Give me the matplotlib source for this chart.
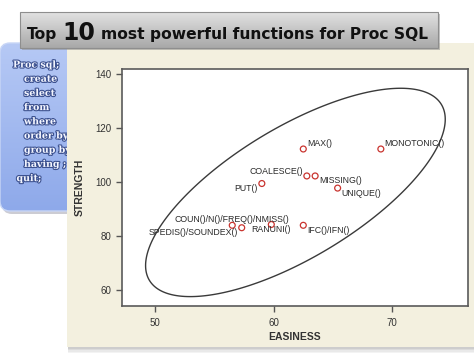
import matplotlib as mpl
mpl.use('Agg')
import matplotlib.pyplot as plt
import matplotlib.patheffects as pe
from matplotlib import font_manager
from matplotlib.patches import FancyBboxPatch, Rectangle, Polygon
from matplotlib.colors import LinearSegmentedColormap
import numpy as np

# functions: easiness (x) vs strength (y)
func_names = ["MAX()", "MONOTONIC()", "COALESCE()", "MISSING()", "UNIQUE()", "PUT()",
              "COUN()/N()/FREQ()/NMISS()", "SPEDIS()/SOUNDEX()", "RANUNI()", "IFC()/IFN()"]
easiness = [62.5, 69.05, 62.8, 63.5, 65.4, 59.0, 56.5, 57.3, 59.8, 62.5]
strength = [112.3, 112.3, 102.3, 102.3, 97.8, 99.5, 84.0, 83.1, 84.3, 84.0]
# where the label sits around its point
label_pos = ["ne", "ne", "nw", "se", "se", "sw", "n", "sw", "s", "se"]

x_ticks = [50, 60, 70]
y_ticks = [60, 80, 100, 120, 140]

sql_lines = ["Proc sql;", "create", "select", "from", "where",
             "order by", "group by", "having ;", "quit;"]

title_parts = ["Top", "10", "most powerful functions for Proc SQL"]

# offsets in pixels, horizontal alignment
offsets = {"ne": (3.5, 5, "left"), "nw": (-4, 4, "right"),
           "se": (4, -5, "left"), "sw": (-4, -5, "right"),
           "n": (0, 6, "center"), "s": (0, -5.5, "center")}


def pred_ellipse(x, y, f95=4.459):
    # 95% prediction ellipse like sgplot ellipse statement, f95 = F(.95; 2, n-2) for n=10
    pts = np.column_stack([x, y])
    n = len(pts)
    mean = pts.mean(axis=0)
    cov = np.cov(pts, rowvar=False)
    r = np.sqrt(2.0 * (n - 1) * (n + 1) / (n * (n - 2)) * f95)
    L = np.linalg.cholesky(cov)
    t = np.linspace(0, 2 * np.pi, 400, endpoint=False)
    e = mean[:, None] + r * (L @ np.vstack([np.cos(t), np.sin(t)]))
    return e.T


def gradient_fill(ax, patch, x0, x1, y0, y1, c_top, c_bot, z):
    cmap = LinearSegmentedColormap.from_list('g', [c_top, c_bot])
    grad = np.linspace(0, 1, 128)[:, None]
    im = ax.imshow(grad, extent=(x0, x1, y1, y0), cmap=cmap, aspect='auto',
                   origin='upper', zorder=z)
    im.set_clip_path(patch)


fig = plt.figure(figsize=(4.74, 3.55), dpi=100)
fig.patch.set_facecolor('white')

# background layer in pixel units
bg = fig.add_axes([0, 0, 1, 1], zorder=0)
bg.axis('off')

# blue side box
shadow = FancyBboxPatch((2, 46), 90, 168, boxstyle='round,pad=0,rounding_size=10',
                        fc='#9a9aa8', ec='none', alpha=0.5, zorder=1)
bg.add_patch(shadow)
blue = FancyBboxPatch((0, 43), 90, 168, boxstyle='round,pad=0,rounding_size=10',
                      fc='none', ec='#c8d6f6', lw=1, zorder=2)
bg.add_patch(blue)
gradient_fill(bg, blue, 0, 90, 43, 211, '#b6c9f5', '#8ea9ea', 1.5)

blue_x = [13, 24, 24, 24, 24, 24, 24, 24, 16.5]
for i, line in enumerate(sql_lines):
    bg.text(blue_x[i], 65 + i * 14.2, line, fontsize=6.8, family='DejaVu Serif',
            weight='bold', color='#f4f6ff', va='center', ha='left', zorder=4,
            path_effects=[pe.withStroke(linewidth=1.6, foreground='#3d5290')])

# beige panel with shadow
for k, a in enumerate([0.35, 0.25, 0.15, 0.08]):
    bg.add_patch(Rectangle((68, 347 + k * 1.5), 420, 1.6, fc='#707070', ec='none',
                           alpha=a, zorder=4.5))
bg.add_patch(Rectangle((67, 43), 420, 304, fc='#f3f0df', ec='none', zorder=5))

# title box
bg.add_patch(Rectangle((22, 14), 418, 36, fc='#8a8a8a', ec='none', alpha=0.5, zorder=5.5))
tbox = Rectangle((20, 12), 418, 36, fc='none', ec='#8e8e8e', lw=0.8, zorder=6.5)
bg.add_patch(tbox)
gradient_fill(bg, tbox, 20, 438, 12, 48, '#e2e2e2', '#a8a8a8', 6)

bg.set_xlim(0, 474)
bg.set_ylim(355, 0)

installed = {f.name for f in font_manager.fontManager.ttflist}
if 'Liberation Sans Narrow' in installed:
    big_fam, big_size = 'Liberation Sans Narrow', 22
else:
    big_fam, big_size = 'DejaVu Sans', 17

renderer = fig.canvas.get_renderer()
tx = 27
sizes = [11.2, big_size, 11.2]
fams = ['DejaVu Sans', big_fam, 'DejaVu Sans']
gaps = [5, 6, 0]
for part, s, f, g in zip(title_parts, sizes, fams, gaps):
    t = bg.text(tx, 39.5, part, fontsize=s, family=f, weight='bold',
                color='#111111', va='baseline', ha='left', zorder=7)
    bb = t.get_window_extent(renderer=renderer)
    tx += bb.width + g

# main chart
ax = fig.add_axes([122 / 474, 1 - 306 / 355, 346 / 474, 237 / 355], zorder=2)
ax.set_facecolor('white')

ell = Polygon(pred_ellipse(easiness, strength), closed=True, fill=False,
              ec='#3a3a3a', lw=1.0, zorder=2)
ax.add_patch(ell)

ax.scatter(easiness, strength, s=18, facecolors='none', edgecolors='#c9342f',
           linewidths=0.9, zorder=3)

for name, x, y, p in zip(func_names, easiness, strength, label_pos):
    dx, dy, ha = offsets[p]
    ax.annotate(name, (x, y), xytext=(dx, dy), textcoords='offset pixels',
                ha=ha, va='center', fontsize=6.3, family='Liberation Sans',
                color='#2a2a2a', zorder=4)

ax.set_xlim(47.19, 76.41)
ax.set_ylim(54.07, 141.97)
ax.set_xticks(x_ticks)
ax.set_yticks(y_ticks)
ax.tick_params(direction='out', length=4, width=1, color='#555555',
               labelsize=7, labelcolor='#333333')
ax.tick_params(axis='x', pad=4.5)
ax.tick_params(axis='y', pad=3.5)
for lab in ax.get_xticklabels() + ax.get_yticklabels():
    lab.set_family('Liberation Sans')
for sp in ax.spines.values():
    sp.set_color('#5a5a5a')
    sp.set_linewidth(1.2)

ax.set_xlabel('EASINESS', fontsize=7.5, weight='bold', color='#333333',
              family='Liberation Sans', va='center')
ax.set_ylabel('STRENGTH', fontsize=7.5, weight='bold', color='#333333',
              family='Liberation Sans', va='center')
ax.xaxis.set_label_coords(0.5, -(337 - 306) / 237)
ax.yaxis.set_label_coords(-(122 - 80) / 346, 0.5)

fig.savefig('out.png', dpi=100)
